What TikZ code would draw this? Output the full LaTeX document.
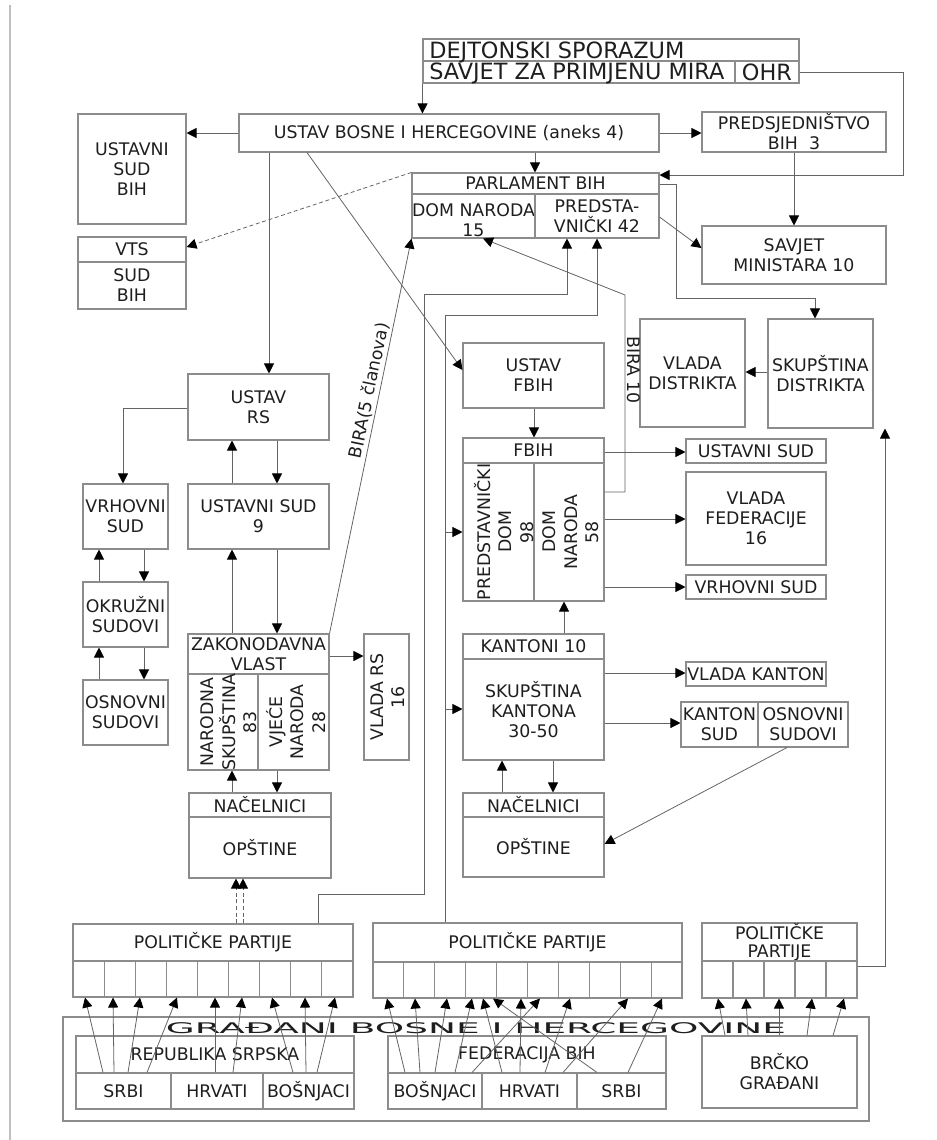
\documentclass[tikz,border=0pt]{standalone}
\usepackage{fontspec}
\usepackage{graphicx}
\setmainfont{DejaVu Sans}
\usetikzlibrary{arrows.meta,fit,calc}
\definecolor{boxc}{RGB}{140,140,140}
\definecolor{linec}{RGB}{100,100,100}
\definecolor{txtc}{RGB}{30,30,30}
\newcommand\fsz{\fontsize{13}{15}\selectfont}
\newcommand\fszr{\fontsize{13}{16}\selectfont}
\newcommand\fbig{\fontsize{16.8}{16.8}\selectfont}
\tikzset{
  x=0.75pt, y=-0.75pt,
  box/.style={draw=boxc, line width=0.8pt, inner sep=0pt},
  txt/.style={inner sep=0pt, text=txtc, align=center, font=\fsz},
  txtr/.style={inner sep=0pt, text=txtc, align=center, font=\fszr},
  arr/.style={draw=linec, line width=0.6pt, -{Triangle[length=7.5pt,width=7.5pt,color=black]}},
  dsh/.style={dash pattern=on 3pt off 2pt},
}
\newcommand\bx[7][]{\node[box,fit={(#3,#4)(#5,#6)}] (#2) {};\node[txt,#1] (#2t) at (#2.center) {#7};}
\newcommand\bxe[5]{\node[box,fit={(#2,#3)(#4,#5)}] (#1) {};}
\begin{document}
\begin{tikzpicture}
\useasboundingbox (0,0) rectangle (937,1140);
\draw[draw=black!25, line width=1.5pt] (10,5) -- (10,1140);

% ---- top ----
\bxe{dejtop}{423}{39}{799}{61}
\bxe{dejs}{423}{61}{735}{83}
\bx[font=\fbig]{ohr}{735}{61}{799}{83}{OHR}
\node[txt,anchor=base west,font=\fbig] (dejtxt) at (429,58) {DEJTONSKI SPORAZUM};
\node[txt,anchor=base west,font=\fbig] (savtxt) at (429,79) {SAVJET ZA PRIMJENU MIRA};

\bx{ustavbih}{239}{114}{659}{152}{USTAV BOSNE I HERCEGOVINE (aneks 4)}
\bx{predsj}{702}{112}{886}{152}{PREDSJEDNIŠTVO\\BIH~~3}
\bx{usbih}{78}{114}{186}{224}{USTAVNI\\SUD\\BIH}
\bx{vts}{78}{237}{186}{262}{VTS}
\bx{sudbih}{78}{262}{186}{309}{SUD\\BIH}
\bx{parl}{412}{173}{659}{194}{PARLAMENT BIH}
\bx[yshift=-3pt]{domn}{412}{194}{535}{238}{DOM NARODA\\15}
\bx{pred}{535}{194}{659}{238}{PREDSTA-\\VNIČKI 42}
\bx{savjet}{702}{226}{886}{284}{SAVJET\\MINISTARA 10}
\bx{vladad}{640}{319}{745}{427}{VLADA\\DISTRIKTA}
\bx{skd}{768}{319}{873}{428}{SKUPŠTINA\\DISTRIKTA}

% ---- RS ----
\bx{ustavrs}{188}{374}{329}{440}{USTAV\\RS}
\bx{vrsud}{83}{484}{168}{549}{VRHOVNI\\SUD}
\bx{okr}{83}{582}{168}{647}{OKRUŽNI\\SUDOVI}
\bx{osn}{83}{680}{168}{745}{OSNOVNI\\SUDOVI}
\bx{ussud}{188}{484}{329}{549}{USTAVNI SUD\\9}
\bx{zak}{188}{634}{329}{674}{ZAKONODAVNA\\VLAST}
\bxe{nar}{188}{674}{258}{770}
\bxe{vij}{258}{674}{329}{770}
\node[txtr,rotate=90] (nartxt) at (229,722) {NARODNA\\SKUPŠTINA\\83};
\node[txtr,rotate=90] (vijtxt) at (296,722) {VJEĆE\\NARODA\\28};
\bxe{vladars}{364}{634}{409}{760}
\node[txtr,rotate=90] (vrstxt) at (388,697) {VLADA RS\\16};
\bx{nacrs}{189}{793}{331}{817}{NAČELNICI}
\bx{oprs}{189}{817}{331}{878}{OPŠTINE}

% ---- FBIH ----
\bx{ustavfbih}{463}{343}{604}{408}{USTAV\\FBIH}
\bx{fbih}{463}{438}{604}{463}{FBIH}
\bxe{predom}{463}{463}{534}{601}
\bxe{domn58}{534}{463}{604}{601}
\node[txtr,rotate=90] (predomtxt) at (504,532) {PREDSTAVNIČKI\\DOM\\98};
\node[txtr,rotate=90] (domn58txt) at (571,532) {DOM\\NARODA\\58};
\bx{ussudf}{686}{439}{826}{463}{USTAVNI SUD}
\bx{vladaf}{686}{472}{826}{565}{VLADA\\FEDERACIJE\\16}
\bx{vrsudf}{686}{575}{826}{599}{VRHOVNI SUD}
\bx{kant}{463}{634}{604}{659}{KANTONI 10}
\bx{skk}{463}{659}{604}{760}{SKUPŠTINA\\KANTONA\\30-50}
\bx{vladak}{686}{662}{826}{686}{VLADA KANTON}
\bx{kantsud}{681}{702}{758}{747}{KANTON\\SUD}
\bx{osnf}{758}{702}{848}{747}{OSNOVNI\\SUDOVI}
\bx{nacf}{463}{793}{604}{817}{NAČELNICI}
\bx{opf}{463}{817}{604}{877}{OPŠTINE}

% ---- parties ----
\bx{pprs}{73}{924}{353}{961}{POLITIČKE PARTIJE}
\foreach \i in {1,...,9} {\node[box,fit={({73+(\i-1)*280/9},961) ({73+\i*280/9},997)}] (rp\i) {};}
\bx{ppf}{373}{923}{682}{962}{POLITIČKE PARTIJE}
\foreach \i in {1,...,10} {\node[box,fit={({373+(\i-1)*30.9},962) ({373+\i*30.9},998)}] (fp\i) {};}
\bx[font=\fontsize{13}{13.5}\selectfont]{ppb}{702}{923}{857}{961}{POLITIČKE\\PARTIJE}
\foreach \i in {1,...,5} {\node[box,fit={({702+(\i-1)*31},961) ({702+\i*31},998)}] (bp\i) {};}

% ---- citizens ----
\bxe{gradjani}{63}{1017}{869}{1121}
\node[inner sep=0pt,text=txtc] (gtitle) at (476,1028) {\scalebox{2.55}[1]{\fontsize{11}{11}\selectfont GRAĐANI BOSNE I HERCEGOVINE}};
\bx{rsbox}{76}{1036}{354}{1073}{REPUBLIKA SRPSKA}
\bx{srbi}{76}{1073}{171}{1109}{SRBI}
\bx{hrv}{171}{1073}{263}{1109}{HRVATI}
\bx{bos}{263}{1073}{354}{1109}{BOŠNJACI}
\bx{fedbox}{388}{1036}{666}{1073}{FEDERACIJA BIH}
\bx{fbos}{388}{1073}{482}{1109}{BOŠNJACI}
\bx{fhrv}{482}{1073}{577}{1109}{HRVATI}
\bx{fsrb}{577}{1073}{666}{1109}{SRBI}
\bx{brcko}{702}{1036}{857}{1108}{BRČKO\\GRAĐANI}

% ---- connectors ----
\draw[arr] (dejs.south west) -- (ustavbih.north -| dejs.south west);
\draw[arr] (ohr.east) -- (903,72) -- (903,175) -- (parl.east |- 0,175);
\draw[arr] (ustavbih.east) -- (predsj.west |- ustavbih.east);
\draw[arr] (ustavbih.west) -- (usbih.east |- ustavbih.west);
\draw[arr] (ustavbih.south -| 535,0) -- (parl.north -| 535,0);
\draw[arr] (predsj.south -| 794,0) -- (savjet.north -| 794,0);
\draw[arr] (pred.east |- 0,217) -- (savjet.west |- 0,248);
\draw[arr] (parl.east |- 0,184) -- (676,184) -- (676,298) -- (815,298) -- (skd.north -| 815,0);
\draw[arr] (skd.west |- 0,372) -- (vladad.east |- 0,372);
\draw[arr,dsh] (parl.north west) -- (vts.east |- 0,247);
\draw[arr] (ustavbih.south -| 269,0) -- (ustavrs.north -| 269,0);
\draw[arr] (ustavbih.south -| 307,0) -- (ustavfbih.west |- 0,370);
\draw[arr] (ustavrs.west |- 0,408) -- (123,408) -- (vrsud.north -| 123,0);
\draw[arr] (okr.north -| 99,0) -- (vrsud.south -| 99,0);
\draw[arr] (vrsud.south -| 144,0) -- (okr.north -| 144,0);
\draw[arr] (osn.north -| 99,0) -- (okr.south -| 99,0);
\draw[arr] (okr.south -| 144,0) -- (osn.north -| 144,0);
\draw[arr] (ussud.north -| 232,0) -- (ustavrs.south -| 232,0);
\draw[arr] (ustavrs.south -| 277,0) -- (ussud.north -| 277,0);
\draw[arr] (zak.north -| 232,0) -- (ussud.south -| 232,0);
\draw[arr] (ussud.south -| 277,0) -- (zak.north -| 277,0);
\draw[arr] (zak.east |- 0,656) -- (vladars.west |- 0,656);
\draw[arr] (nacrs.north -| 232,0) -- (nar.south -| 232,0);
\draw[arr] (vij.south -| 277,0) -- (nacrs.north -| 277,0);
\draw[arr] (zak.north east) -- node[pos=0.61,sloped,above=1.5pt,txt] (bira5) {BIRA(5 članova)} (domn.south west);
\draw[arr,dsh] (pprs.north -| 236,0) -- (oprs.south -| 236,0);
\draw[arr,dsh] (pprs.north -| 243,0) -- (oprs.south -| 243,0);
\draw[arr] (pprs.north -| 318,0) -- (318,894) -- (424,894) -- (424,294) -- (567,294) -- (pred.south -| 567,0);
\draw[arr] (ppf.north -| 445,0) -- (445,315) -- (597,315) -- (pred.south -| 597,0);
\coordinate (j1) at (445,532);
\coordinate (j2) at (445,709);
\draw[arr] (j1) -- (predom.west |- j1);
\draw[arr] (j2) -- (skk.west |- j2);
\draw[arr] (ustavfbih.south -| 534,0) -- (fbih.north -| 534,0);
\draw[arr] (fbih.east |- 0,452) -- (ussudf.west |- 0,452);
\draw[arr] (domn58.east |- 0,519) -- (vladaf.west |- 0,519);
\draw[arr] (domn58.east |- 0,587) -- (vrsudf.west |- 0,587);
\draw[arr] (domn58.east |- 0,492) -- (625,492) -- (625,295) -- (domn.south -| 483,0);
\node[txt,rotate=-90] (bira10) at (634,370) {BIRA 10};
\draw[arr] (kant.north -| 564,0) -- (domn58.south -| 564,0);
\draw[arr] (skk.east |- 0,673) -- (vladak.west |- 0,673);
\draw[arr] (skk.east |- 0,723) -- (kantsud.west |- 0,723);
\draw[arr] (osnf.south -| 787,0) -- (opf.east |- 0,844);
\draw[arr] (nacf.north -| 502,0) -- (skk.south -| 502,0);
\draw[arr] (skk.south -| 553,0) -- (nacf.north -| 553,0);
\draw[arr] (bp5.east |- 0,966) -- (885,966) -- (skd.south -| 885,0);

\foreach \n/\a/\b/\c in {srbi/103/85/1, srbi/114/113/2, srbi/128/140/3, srbi/147/177/4, hrv/215/215/5, hrv/233/242/6, bos/293/272/7, bos/306/305/8, bos/317/335/9}
  {\draw[arr] (\n.north -| \a,0) -- (rp\c.south -| \b,0);}
\foreach \n/\a/\b/\c in {fbos/405/387/1, fbos/420/415/2, fbos/435/447/3, fbos/455/472/4, fbos/472/540/6, fhrv/502/483/4, fhrv/520/521/5, fhrv/545/570/7, fhrv/563/628/9, fsrb/597/493/4, fsrb/628/662/10}
  {\draw[arr] (\n.north -| \a,0) -- (fp\c.south -| \b,0);}
\foreach \a/\b/\c in {725/718/1, 748/746/2, 779/779/3, 807/812/4, 833/844/5}
  {\draw[arr] (brcko.north -| \a,0) -- (bp\c.south -| \b,0);}
\end{tikzpicture}
\end{document}
